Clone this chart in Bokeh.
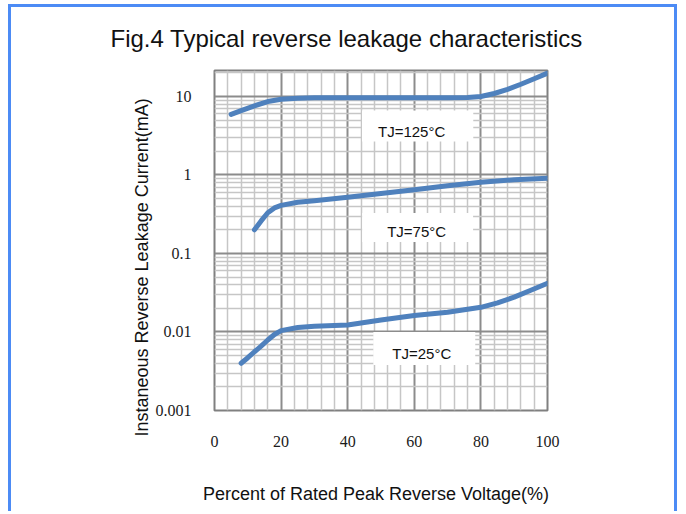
from bokeh.plotting import figure
from bokeh.models import FixedTicker, Label, Range1d, Title
from bokeh.embed import file_html
from bokeh.resources import INLINE

# ---- data ----
x_ticks = [0, 20, 40, 60, 80, 100]
x_tick_labels = ["0", "20", "40", "60", "80", "100"]
y_ticks = [0.001, 0.01, 0.1, 1, 10]
y_tick_labels = ["0.001", "0.01", "0.1", "1", "10"]

pct_125 = [5, 8, 12, 16, 20, 25, 30, 40, 50, 60, 70, 76, 80, 84, 88, 92, 96, 100]
ir_125 = [5.9, 6.6, 7.6, 8.6, 9.2, 9.5, 9.6, 9.6, 9.6, 9.6, 9.6, 9.7, 10.0, 10.9, 12.3, 14.3, 16.8, 19.8]

pct_75 = [12, 14, 16, 18, 20, 25, 30, 40, 50, 60, 70, 80, 90, 100]
ir_75 = [0.2, 0.26, 0.33, 0.38, 0.41, 0.45, 0.47, 0.52, 0.58, 0.65, 0.73, 0.81, 0.87, 0.91]

pct_25 = [8, 10, 12, 14, 16, 18, 20, 25, 30, 40, 50, 60, 70, 80, 85, 90, 95, 100]
ir_25 = [0.004, 0.0047, 0.0056, 0.0066, 0.0079, 0.0093, 0.0104, 0.0114, 0.0118, 0.0123,
         0.0142, 0.0162, 0.0178, 0.0206, 0.0235, 0.0278, 0.034, 0.0417]

curve_names = ["TJ=125°C", "TJ=75°C", "TJ=25°C"]
name_x = [61.0, 61.0, 63.0]
name_y = [4.21, 0.214, 0.00616]

title_text = "Fig.4 Typical reverse leakage characteristics"
x_title = "Percent of Rated Peak  Reverse  Voltage(%)"
y_title = "Instaneous   Reverse  Leakage  Current(mA)"

x_lo, x_hi = 0, 100
y_lo, y_hi = 0.001, 21.4

# ---- figure ----
p = figure(width=669, height=507, y_axis_type="log",
           x_range=Range1d(x_lo, x_hi), y_range=Range1d(y_lo, y_hi),
           output_backend="svg", toolbar_location=None,
           min_border_left=203, min_border_right=133,
           min_border_top=63, min_border_bottom=104)
p.styles = {"margin-top": "4px", "margin-left": "8px",
            "border-top": "3px solid #4c8bf5",
            "border-left": "3px solid #4c8bf5",
            "border-right": "3px solid #4c8bf5"}
p.background_fill_color = "white"
p.border_fill_color = "white"
p.outline_line_color = "#808080"
p.outline_line_width = 2

x_minor = [v for v in range(0, 101, 4) if v % 20 != 0]
y_minor = [m * 10.0 ** k for k in range(-3, 2) for m in range(2, 10) if m * 10.0 ** k <= y_hi]
xt = FixedTicker(ticks=x_ticks, minor_ticks=x_minor)
yt = FixedTicker(ticks=y_ticks, minor_ticks=y_minor)
p.xaxis.ticker = xt
p.yaxis.ticker = yt
p.xgrid.ticker = xt
p.ygrid.ticker = yt
p.xaxis.major_label_overrides = {t: l for t, l in zip(x_ticks, x_tick_labels)}
p.yaxis.major_label_overrides = {t: l for t, l in zip(y_ticks, y_tick_labels)}

for ax in (p.xaxis[0], p.yaxis[0]):
    ax.axis_line_color = None
    ax.major_tick_line_color = None
    ax.minor_tick_line_color = None
    ax.major_label_text_font = "Liberation Serif"
    ax.major_label_text_font_size = "16px"
    ax.major_label_text_color = "#1a1a1a"
p.xaxis.major_label_standoff = 19
p.yaxis.major_label_standoff = 17

p.xaxis.axis_label = x_title
p.xaxis.axis_label_standoff = 34
p.xaxis.axis_label_text_font = "Liberation Sans"
p.xaxis.axis_label_text_font_size = "18px"
p.xaxis.axis_label_text_font_style = "normal"
p.xaxis.axis_label_text_color = "#111111"

for g in (p.xgrid[0], p.ygrid[0]):
    g.grid_line_color = "#8c8c8c"
    g.grid_line_width = 2
    g.minor_grid_line_color = "#c6c6c6"
    g.minor_grid_line_width = 1.5

curve_color = "#4f81bd"
for xs, ys in ((pct_125, ir_125), (pct_75, ir_75), (pct_25, ir_25)):
    p.line(xs, ys, line_width=5, line_color=curve_color, line_join="round", line_cap="round")

pads = [dict(left=16, right=28, top=13, bottom=1),
        dict(left=25, right=27, top=10, bottom=2),
        dict(left=19, right=24, top=13, bottom=3)]
for name, lx, ly, pad in zip(curve_names, name_x, name_y, pads):
    p.add_layout(Label(x=lx, y=ly, text=name, text_align="center", text_baseline="middle",
                       text_font="Liberation Sans", text_font_size="15px", text_color="#111111",
                       background_fill_color="white", padding=pad))

# titles
p.title.text = title_text
p.title.align = "left"
p.title.offset = -104
p.title.vertical_align = "top"
p.title.standoff = 34
p.title.text_font = "Liberation Sans"
p.title.text_font_size = "24px"
p.title.text_font_style = "normal"
p.title.text_color = "#111111"

p.add_layout(Title(text=y_title, align="left", offset=-26, standoff=1,
                   text_font="Liberation Sans", text_font_size="18px",
                   text_font_style="normal", text_color="#111111"), "left")

open("out.html", "w").write(file_html(p, INLINE))
